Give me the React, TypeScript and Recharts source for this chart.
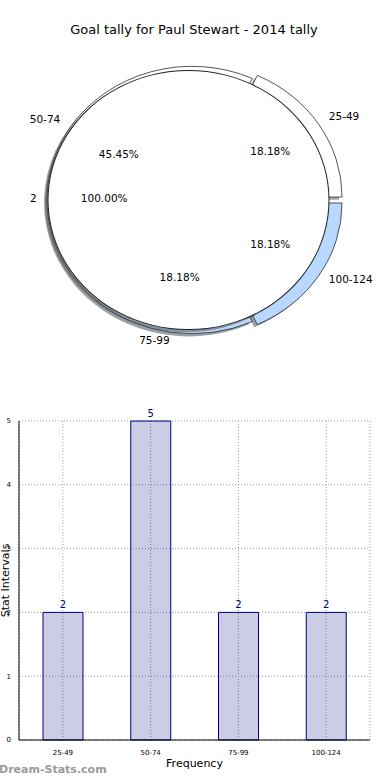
import React from "react";
import {
  PieChart,
  Pie,
  Cell,
  BarChart,
  Bar,
  XAxis,
  YAxis,
  CartesianGrid,
  LabelList,
} from "recharts";

// pie: outer ring by interval, inner single slice
const sliceNames = ["25-49", "50-74", "75-99", "100-124"];
const sliceValues = [2, 5, 2, 2];
const innerNames = ["2"];
const innerValues = [2];

// bar chart
const barCategories = ["25-49", "50-74", "75-99", "100-124"];
const barValues = [2, 5, 2, 2];
const yTicks = [0, 1, 2, 3, 4, 5];

const sliceColors = ["#ffffff", "#ffffff", "#b8d8ff", "#b8d8ff"];
const sliceExplode = [6, 0, 0, 6];

const RAD = Math.PI / 180;
const SQUASH = 0.922; // the original pie is drawn as an ellipse
const CX = 192;
const CY = 200;
const R = 145;
const CX_IN = 188.5;
const R_IN = 140.5;
const SHADOW_DX = -3;
const SHADOW_DY = 3;
const LABEL_DIST = 1.08;

const pieData = sliceNames.map((name, i) => ({ name, value: sliceValues[i] }));
const innerData = innerNames.map((name, i) => ({ name, value: innerValues[i] }));
const barData = barCategories.map((name, i) => ({ name, count: barValues[i] }));

const total = sliceValues.reduce((a, b) => a + b, 0);
const midAngle = (i: number) => {
  const before = sliceValues.slice(0, i).reduce((a, b) => a + b, 0);
  return ((before + sliceValues[i] / 2) / total) * 360;
};

const shade = (hex: string) => {
  const n = parseInt(hex.slice(1), 16);
  const r = Math.round(((n >> 16) & 255) * 0.3);
  const g = Math.round(((n >> 8) & 255) * 0.3);
  const b = Math.round((n & 255) * 0.3);
  return `rgb(${r},${g},${b})`;
};

function SqText({ x, y, anchor, children }: any) {
  return (
    <text
      x={x}
      y={y}
      dy={-2.5}
      textAnchor={anchor}
      dominantBaseline="central"
      fontSize={10.5}
      fill="#000"
      transform={`translate(${x} ${y}) scale(1 ${1 / SQUASH}) translate(${-x} ${-y})`}
    >
      {children}
    </text>
  );
}

const sliceLabel = (i: number) => (p: any) => {
  if (p.index !== i) return null;
  const r = p.outerRadius;
  const c = Math.cos(p.midAngle * RAD);
  const s = Math.sin(p.midAngle * RAD);
  const lx = p.cx + r * LABEL_DIST * c;
  const ly = p.cy - r * LABEL_DIST * s;
  const px = p.cx + r * 0.6 * c;
  const py = p.cy - r * 0.6 * s;
  return (
    <g>
      <SqText x={lx} y={ly} anchor={c >= 0 ? "start" : "end"}>
        {p.name}
      </SqText>
      <SqText x={px} y={py} anchor="middle">
        {(p.percent * 100).toFixed(2)}%
      </SqText>
    </g>
  );
};

function GoalPie() {
  const offsets = sliceNames.map((_, i) => {
    const a = midAngle(i) * RAD;
    return { cx: CX + sliceExplode[i] * Math.cos(a), cy: CY - sliceExplode[i] * Math.sin(a) };
  });

  return (
    <div
      style={{
        position: "absolute",
        left: 0,
        top: 0,
        width: 390,
        height: 380,
        transform: `scaleY(${SQUASH})`,
        transformOrigin: `${CX}px ${CY}px`,
      }}
    >
      <PieChart width={390} height={380} margin={{ top: 0, right: 0, bottom: 0, left: 0 }}>
        {/* shadows of the outer slices */}
        {offsets.map((o, i) => (
          <Pie
            key={`sh${i}`}
            data={pieData}
            dataKey="value"
            cx={o.cx + SHADOW_DX}
            cy={o.cy + SHADOW_DY}
            outerRadius={R}
            startAngle={0}
            endAngle={360}
            isAnimationActive={false}
            stroke="none"
          >
            {pieData.map((_, j) => (
              <Cell
                key={j}
                fill={j === i ? shade(sliceColors[j]) : "none"}
                fillOpacity={0.5}
                stroke="none"
              />
            ))}
          </Pie>
        ))}
        {/* outer slices */}
        {offsets.map((o, i) => (
          <Pie
            key={`sl${i}`}
            data={pieData}
            dataKey="value"
            cx={o.cx}
            cy={o.cy}
            outerRadius={R}
            startAngle={0}
            endAngle={360}
            isAnimationActive={false}
            labelLine={false}
            label={sliceLabel(i)}
          >
            {pieData.map((_, j) => (
              <Cell
                key={j}
                fill={j === i ? sliceColors[j] : "none"}
                stroke={j === i ? "#222" : "none"}
                strokeWidth={0.8}
              />
            ))}
          </Pie>
        ))}
        {/* inner pie: shadow, face, edge */}
        <Pie
          data={innerData}
          dataKey="value"
          cx={CX_IN + SHADOW_DX}
          cy={CY + SHADOW_DY}
          outerRadius={R_IN}
          startAngle={0}
          endAngle={360}
          isAnimationActive={false}
          stroke="none"
          fill={shade("#ffffff")}
          fillOpacity={0.5}
        />
        <Pie
          data={innerData}
          dataKey="value"
          cx={CX_IN}
          cy={CY}
          outerRadius={R_IN}
          startAngle={0}
          endAngle={360}
          isAnimationActive={false}
          fill="#ffffff"
          stroke="none"
          labelLine={false}
          label={sliceLabel(0)}
        />
        <Pie
          data={innerData}
          dataKey="value"
          cx={CX_IN}
          cy={CY}
          innerRadius={R_IN - 0.5}
          outerRadius={R_IN + 0.5}
          startAngle={0}
          endAngle={360}
          isAnimationActive={false}
          fill="#222"
          stroke="none"
        />
      </PieChart>
    </div>
  );
}

function FreqBars() {
  return (
    <div style={{ position: "absolute", left: 0, top: 400 }}>
      <BarChart
        width={390}
        height={380}
        data={barData}
        margin={{ top: 21, right: 20, bottom: 0, left: 0 }}
      >
        <CartesianGrid stroke="#9a9a9a" strokeDasharray="1 2" />
        <XAxis
          dataKey="name"
          height={40}
          tick={{ fontSize: 7, fill: "#000" }}
          tickLine={false}
          tickMargin={4}
          axisLine={{ stroke: "#000" }}
          label={{ value: "Frequency", position: "insideBottom", offset: 13, fontSize: 11, fill: "#000" }}
        />
        <XAxis
          xAxisId="top"
          orientation="top"
          dataKey="name"
          height={0}
          tick={false}
          tickLine={false}
          axisLine={{ stroke: "#000" }}
        />
        <YAxis
          width={19}
          domain={[0, 5]}
          ticks={yTicks}
          tick={{ fontSize: 7, fill: "#000" }}
          tickLine={false}
          tickMargin={2}
          axisLine={{ stroke: "#000" }}
          label={{
            content: ({ viewBox }: any) => {
              const x = viewBox.x + 5;
              const y = viewBox.y + viewBox.height / 2;
              return (
                <text
                  x={x}
                  y={y}
                  textAnchor="middle"
                  dominantBaseline="central"
                  fontSize={11}
                  fill="#000"
                  transform={`rotate(-90 ${x} ${y})`}
                >
                  Stat Intervals
                </text>
              );
            },
          }}
        />
        <YAxis
          yAxisId="right"
          orientation="right"
          type="number"
          domain={[0, 5]}
          width={0}
          tick={false}
          tickLine={false}
          axisLine={{ stroke: "#000" }}
        />
        <Bar
          dataKey="count"
          barSize={40}
          fill="#00007f"
          fillOpacity={0.2}
          stroke="#00007f"
          strokeWidth={1}
          isAnimationActive={false}
        >
          <LabelList dataKey="count" position="top" offset={4} fontSize={10} fill="#00007f" />
        </Bar>
      </BarChart>
    </div>
  );
}

export default function App() {
  return (
    <div
      style={{
        position: "absolute",
        left: 0,
        top: 0,
        width: 390,
        height: 780,
        overflow: "hidden",
        background: "#fff",
        fontFamily: "DejaVu Sans",
      }}
    >
      <div
        style={{
          position: "absolute",
          left: 0,
          top: 22,
          width: 388,
          textAlign: "center",
          fontSize: 13,
          lineHeight: "16px",
        }}
      >
        Goal tally for Paul Stewart - 2014 tally
      </div>
      <GoalPie />
      <FreqBars />
      <div
        style={{
          position: "absolute",
          left: -1,
          top: 763,
          fontSize: 11,
          fontWeight: "bold",
          color: "#9a9a9a",
          lineHeight: "13px",
        }}
      >
        Dream-Stats.com
      </div>
    </div>
  );
}
